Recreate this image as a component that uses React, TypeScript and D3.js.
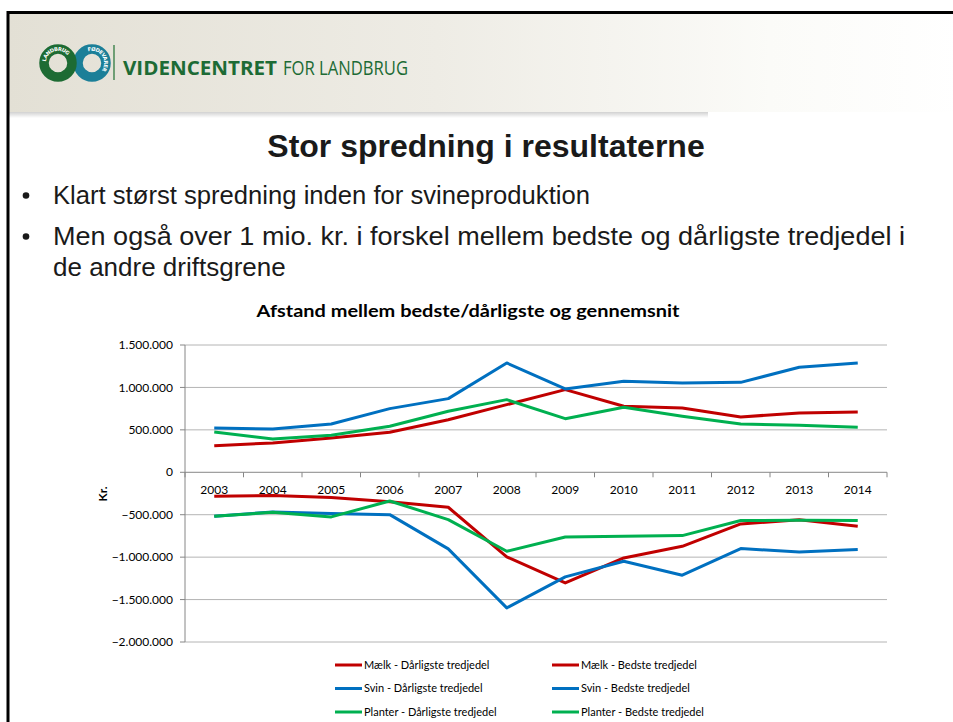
import React, { useEffect, useRef } from 'react';
import * as d3 from 'd3';

// data (kr.)
const years = ['2003', '2004', '2005', '2006', '2007', '2008', '2009', '2010', '2011', '2012', '2013', '2014'];
const maelkDaarligste = [-283000, -275000, -298000, -346000, -412000, -997000, -1304000, -1009000, -872000, -609000, -558000, -636000];
const maelkBedste = [314000, 345000, 404000, 471000, 620000, 797000, 974000, 778000, 758000, 652000, 699000, 711000];
const svinDaarligste = [-518000, -467000, -487000, -499000, -903000, -1598000, -1233000, -1049000, -1213000, -899000, -939000, -911000];
const svinBedste = [522000, 510000, 569000, 750000, 868000, 1288000, 982000, 1072000, 1052000, 1060000, 1237000, 1288000];
const planterDaarligste = [-518000, -471000, -526000, -338000, -558000, -931000, -762000, -754000, -746000, -569000, -565000, -569000];
const planterBedste = [475000, 393000, 436000, 542000, 719000, 856000, 632000, 766000, 660000, 569000, 554000, 530000];
const yTicks = [-2000000, -1500000, -1000000, -500000, 0, 500000, 1000000, 1500000];

const seriesNames = [
  'Mælk - Dårligste tredjedel', 'Mælk - Bedste tredjedel',
  'Svin - Dårligste tredjedel', 'Svin - Bedste tredjedel',
  'Planter - Dårligste tredjedel', 'Planter - Bedste tredjedel',
];
const seriesValues = [maelkDaarligste, maelkBedste, svinDaarligste, svinBedste, planterDaarligste, planterBedste];
const seriesColors = ['#c00000', '#c00000', '#0070c0', '#0070c0', '#00b050', '#00b050'];

const W = 953;
const H = 722;

export default function App() {
  const ref = useRef<SVGSVGElement>(null);

  useEffect(() => {
    document.documentElement.style.overflow = 'hidden';
    document.body.style.margin = '0';

    const svg = d3.select(ref.current);
    svg.selectAll('*').remove();

    const defs = svg.append('defs');
    const hg = defs.append('linearGradient').attr('id', 'hdr').attr('x1', 0).attr('x2', 1).attr('y1', 0).attr('y2', 0);
    hg.append('stop').attr('offset', '0%').attr('stop-color', '#e3e0d5');
    hg.append('stop').attr('offset', '45%').attr('stop-color', '#eeece5');
    hg.append('stop').attr('offset', '80%').attr('stop-color', '#fbfbf8');
    hg.append('stop').attr('offset', '100%').attr('stop-color', '#ffffff');
    const sg = defs.append('linearGradient').attr('id', 'shd').attr('x1', 0).attr('x2', 0).attr('y1', 0).attr('y2', 1);
    sg.append('stop').attr('offset', '0%').attr('stop-color', '#000').attr('stop-opacity', 0.18);
    sg.append('stop').attr('offset', '100%').attr('stop-color', '#000').attr('stop-opacity', 0);

    svg.append('rect').attr('width', W).attr('height', H).attr('fill', '#fff');

    // header band
    svg.append('rect').attr('x', 8).attr('y', 12).attr('width', W).attr('height', 100).attr('fill', 'url(#hdr)');
    svg.append('rect').attr('x', 8).attr('y', 112).attr('width', 700).attr('height', 6).attr('fill', 'url(#shd)');

    // logo rings
    const logo = svg.append('g');
    const rings = [
      { cx: 92, color: '#1b7f98', id: 'rp' },
      { cx: 58, color: '#1d6b33', id: 'lp' },
    ];
    rings.forEach(r => {
      logo.append('circle').attr('cx', r.cx).attr('cy', 63).attr('r', 14).attr('fill', 'none')
        .attr('stroke', r.color).attr('stroke-width', 9.5);
      defs.append('path').attr('id', r.id)
        .attr('d', `M ${r.cx - 14} 63 A 14 14 0 1 1 ${r.cx - 14} 63.01`);
    });
    logo.append('text').attr('font-family', 'DejaVu Sans').attr('font-size', 5.2).attr('font-weight', 'bold')
      .attr('fill', '#fff').attr('dy', 1.8)
      .append('textPath').attr('href', '#lp').attr('startOffset', '2%').text('LANDBRUG');
    logo.append('text').attr('font-family', 'DejaVu Sans').attr('font-size', 5.2).attr('font-weight', 'bold')
      .attr('fill', '#fff').attr('dy', 1.8)
      .append('textPath').attr('href', '#rp').attr('startOffset', '20%').text('FØDEVARER');
    svg.append('line').attr('x1', 114).attr('x2', 114).attr('y1', 45).attr('y2', 80)
      .attr('stroke', '#2f7a3e').attr('stroke-width', 1.3);
    svg.append('text').attr('x', 123).attr('y', 75).attr('font-family', 'Open Sans').attr('font-weight', 'bold')
      .attr('font-size', 20).attr('fill', '#1d6b35').attr('textLength', 154).attr('lengthAdjust', 'spacingAndGlyphs')
      .text('VIDENCENTRET');
    svg.append('text').attr('x', 283).attr('y', 75).attr('font-family', 'Open Sans')
      .attr('font-size', 20).attr('fill', '#1d6b35').attr('textLength', 125).attr('lengthAdjust', 'spacingAndGlyphs')
      .text('FOR LANDBRUG');

    // slide frame (top and left edges visible)
    svg.append('path').attr('d', `M 8 ${H + 5} L 8 12.5 L ${W + 5} 12.5`)
      .attr('fill', 'none').attr('stroke', '#000').attr('stroke-width', 3);

    // slide title and bullets
    svg.append('text').attr('x', 486).attr('y', 157).attr('text-anchor', 'middle')
      .attr('font-family', 'Liberation Sans').attr('font-weight', 'bold').attr('font-size', 32).attr('fill', '#1a1a1a')
      .text('Stor spredning i resultaterne');
    const bullets = [
      { y: 204, t: 'Klart størst spredning inden for svineproduktion', dot: true, len: 537 },
      { y: 245, t: 'Men også over 1 mio. kr. i forskel mellem bedste og dårligste tredjedel i', dot: true, len: 852 },
      { y: 276, t: 'de andre driftsgrene', dot: false, len: 0 },
    ];
    bullets.forEach(b => {
      if (b.dot) svg.append('circle').attr('cx', 26).attr('cy', b.y - 8.5).attr('r', 3.3).attr('fill', '#1a1a1a');
      const t = svg.append('text').attr('x', 53).attr('y', b.y).attr('font-family', 'Liberation Sans')
        .attr('font-size', 26).attr('fill', '#1a1a1a').text(b.t);
      if (b.len) t.attr('textLength', b.len).attr('lengthAdjust', 'spacingAndGlyphs');
    });

    // chart
    const x = d3.scaleBand().domain(years).range([185, 887]);
    const y = d3.scaleLinear().domain([-2000000, 1500000]).range([642, 345]);
    const fmt = d3.formatLocale({ decimal: ',', thousands: '.', grouping: [3], currency: ['', ' kr.'] }).format(',d');
    const cx = (d: string) => (x(d) as number) + x.bandwidth() / 2;

    svg.append('text').attr('x', 468).attr('y', 317).attr('text-anchor', 'middle')
      .attr('font-family', 'Lato').attr('font-weight', 'bold').attr('font-size', 17).attr('fill', '#000')
      .attr('textLength', 423).attr('lengthAdjust', 'spacingAndGlyphs')
      .text('Afstand mellem bedste/dårligste og gennemsnit');

    const chart = svg.append('g');
    chart.selectAll('line.grid').data(yTicks.filter(t => t !== 0)).enter().append('line')
      .attr('x1', 185).attr('x2', 887).attr('y1', d => y(d)).attr('y2', d => y(d))
      .attr('stroke', '#b4b4b4').attr('stroke-width', 1);
    chart.selectAll('line.ytick').data(yTicks).enter().append('line')
      .attr('x1', 180).attr('x2', 185).attr('y1', d => y(d)).attr('y2', d => y(d))
      .attr('stroke', '#868686');
    chart.append('line').attr('x1', 185).attr('x2', 185).attr('y1', 345).attr('y2', 642).attr('stroke', '#868686');
    chart.append('line').attr('x1', 185).attr('x2', 887).attr('y1', y(0)).attr('y2', y(0)).attr('stroke', '#868686');
    chart.selectAll('line.xtick').data([...years.map(d => x(d) as number), 887]).enter().append('line')
      .attr('x1', d => d).attr('x2', d => d).attr('y1', y(0)).attr('y2', y(0) + 5).attr('stroke', '#868686');

    chart.selectAll('text.ylab').data(yTicks).enter().append('text')
      .attr('x', 173).attr('y', d => y(d)).attr('dy', '0.35em').attr('text-anchor', 'end')
      .attr('font-family', 'Lato').attr('font-size', 12).attr('fill', '#000').text(d => fmt(d));
    chart.selectAll('text.xlab').data(years).enter().append('text')
      .attr('x', cx).attr('y', y(0) + 18).attr('dy', '0.35em').attr('text-anchor', 'middle')
      .attr('font-family', 'Lato').attr('font-size', 12).attr('fill', '#000').text(d => d);
    chart.append('text').attr('transform', `translate(107,494) rotate(-90)`).attr('text-anchor', 'middle')
      .attr('font-family', 'Lato').attr('font-weight', 'bold').attr('font-size', 12).text('Kr.');

    const line = d3.line<number>().x((_, i) => cx(years[i])).y(d => y(d));
    seriesValues.forEach((vals, i) => {
      chart.append('path').attr('d', line(vals)).attr('fill', 'none')
        .attr('stroke', seriesColors[i]).attr('stroke-width', 3).attr('stroke-linejoin', 'round');
    });

    // legend
    const lg = svg.append('g');
    seriesNames.forEach((name, i) => {
      const col = i % 2;
      const row = Math.floor(i / 2);
      const lx = col === 0 ? 335 : 552;
      const ly = 665 + row * 23.5;
      lg.append('line').attr('x1', lx).attr('x2', lx + 27).attr('y1', ly).attr('y2', ly)
        .attr('stroke', seriesColors[i]).attr('stroke-width', 3);
      lg.append('text').attr('x', lx + 29).attr('y', ly).attr('dy', '0.35em')
        .attr('font-family', 'Lato').attr('font-size', 11).attr('fill', '#000').text(name);
    });
  }, []);

  return (
    <svg ref={ref} width={W} height={H} style={{ position: 'absolute', left: 0, top: 0, display: 'block' }} />
  );
}
